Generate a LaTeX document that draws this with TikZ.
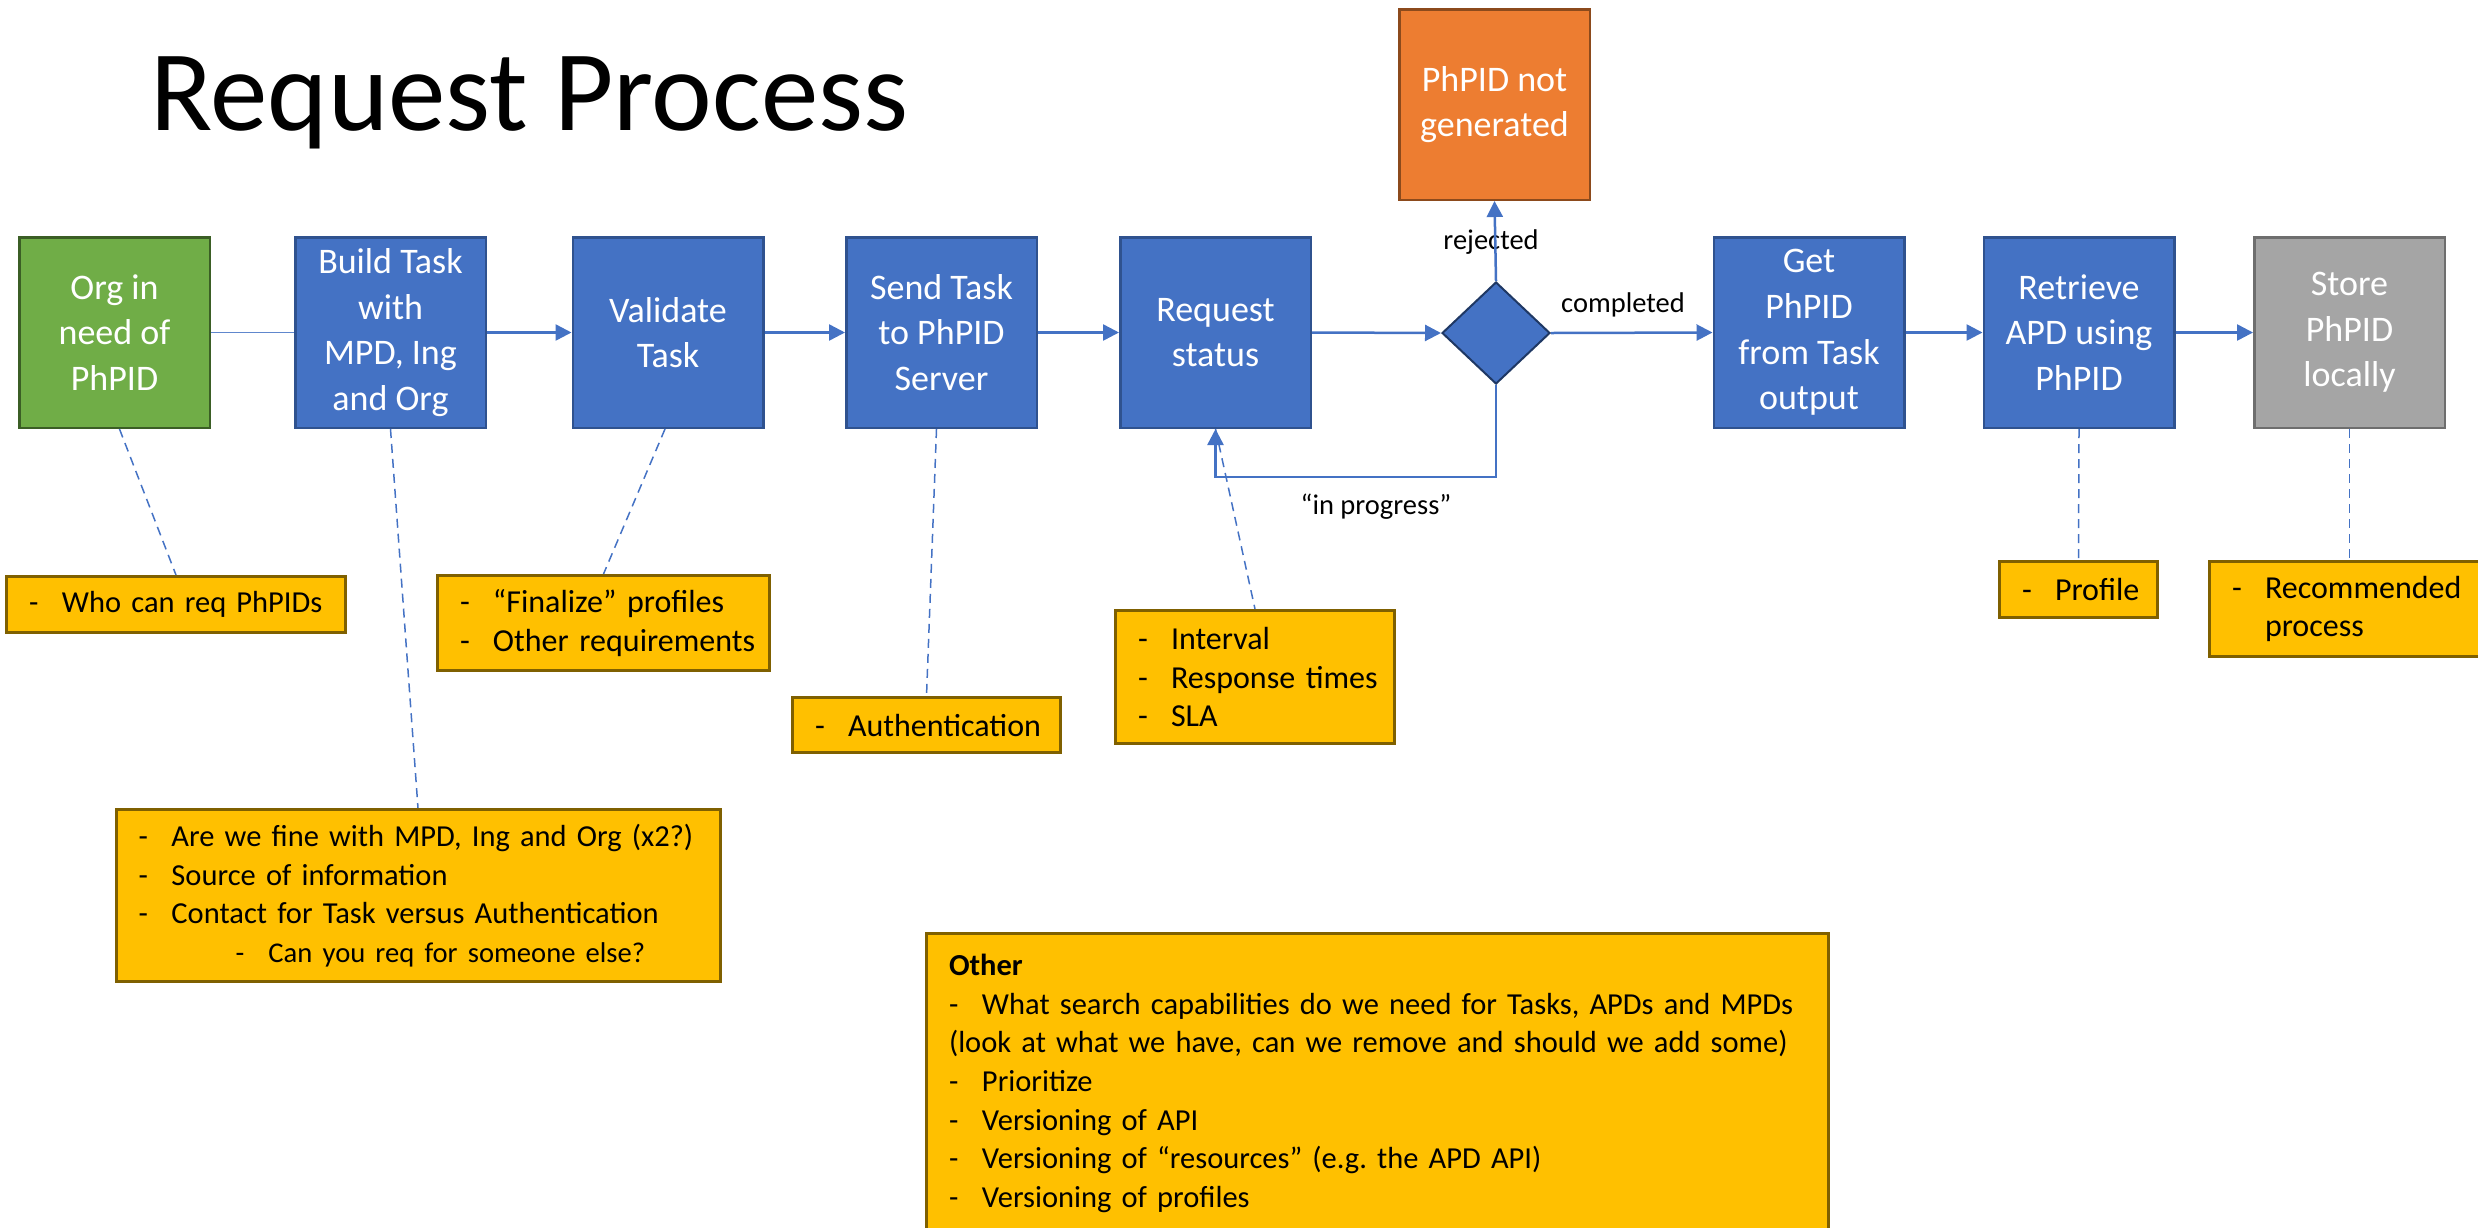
\documentclass[tikz,border=0pt]{standalone}
\usepackage{fontspec}
\setmainfont{Carlito}
\usetikzlibrary{arrows.meta,shapes.geometric}

\definecolor{flowblue}{HTML}{4472C4}
\definecolor{flowedge}{HTML}{2F528F}
\definecolor{diaedge}{HTML}{1F3864}
\definecolor{startgreen}{HTML}{70AD47}
\definecolor{startedge}{HTML}{3B5E25}
\definecolor{failorange}{HTML}{ED7D31}
\definecolor{failedge}{HTML}{8C4A1C}
\definecolor{donegray}{HTML}{A5A5A5}
\definecolor{doneedge}{HTML}{6E6E6E}
\definecolor{notefill}{HTML}{FFC000}
\definecolor{noteedge}{HTML}{7F6000}

% one bullet line of a note: dash, then the text at the hanging indent
\newcommand\itm[1]{\mbox{\makebox[33pt][l]{-}#1}}
% second-level bullet line, set a little smaller
\newcommand\subitm[1]{\hspace*{97pt}\mbox{\fontsize{28.6}{38.7}\selectfont\makebox[33pt][l]{-}#1}}

\tikzset{
  stepbox/.style={rectangle, draw=flowedge, fill=flowblue, line width=2.5pt,
    minimum width=190.5pt, minimum height=190.5pt, inner sep=0pt,
    text=white, align=center, font=\fontsize{36}{45.6}\selectfont},
  startbox/.style={stepbox, draw=startedge, fill=startgreen},
  failbox/.style={stepbox, draw=failedge, fill=failorange},
  donebox/.style={stepbox, draw=doneedge, fill=donegray},
  decision/.style={diamond, draw=diaedge, fill=flowblue, line width=2pt,
    minimum width=108pt, minimum height=102pt, inner sep=0pt},
  notebox/.style={rectangle, draw=noteedge, fill=notefill, line width=3pt,
    inner xsep=0pt, inner ysep=0pt, align=left,
    font=\fontsize{32}{38.6}\selectfont},
  notesmall/.style={notebox, font=\fontsize{30.5}{38.7}\selectfont},
  flow/.style={draw=flowblue, line width=2.5pt,
    -{Triangle[length=16pt,width=16pt]}},
  plainlink/.style={draw=flowblue!85, line width=1.6pt},
  notelink/.style={draw=flowblue, line width=1.5pt, dash pattern=on 9pt off 6pt},
  edgelabel/.style={inner sep=0pt, font=\fontsize{28.5}{34}\selectfont}
}

\begin{document}
\begin{tikzpicture}[x=1pt, y=-1pt]
\useasboundingbox (0,0) rectangle (2478,1227);
\clip (0,0) rectangle (2478,1227);

% title
\node[anchor=base west, inner sep=0pt, font=\fontsize{115}{130}\selectfont]
  (title) at (150,130) {Request Process};

% process steps
\node[startbox] (org)   at (114.5,332.5) {Org in\\need of\\PhPID};
\node[stepbox]  (build) at (390.5,332.5) {Build Task\\with\\MPD, Ing\\and Org};
\node[stepbox]  (valid) at (668,332.5)   {Validate\\Task};
\node[stepbox]  (send)  at (941.5,332.5) {Send Task\\to PhPID\\Server};
\node[stepbox]  (req)   at (1215.5,332.5){Request\\status};
\node[decision] (dec)   at (1496,333)    {};
\node[failbox]  (fail)  at (1494.5,104.5){PhPID not\\generated};
\node[stepbox]  (get)   at (1809,332.5)  {Get\\PhPID\\from Task\\output};
\node[stepbox]  (retr)  at (2079,332.5)  {Retrieve\\APD using\\PhPID};
\node[donebox]  (store) at (2349.5,332.5){Store\\PhPID\\locally};

% notes
\node[notesmall, minimum width=339pt, minimum height=56pt, text width=294pt]
  (who) at (176,604.5) {\itm{Who can req PhPIDs}};
\node[notesmall, minimum width=604pt, minimum height=172pt, text width=559pt]
  (fine) at (418,895.5) {\itm{Are we fine with MPD, Ing and Org (x2?)}\\
    \itm{Source of information}\\
    \itm{Contact for Task versus Authentication}\\
    \subitm{Can you req for someone else?}};
\node[notebox, minimum width=332pt, minimum height=95pt, text width=287pt]
  (final) at (603.5,623) {\itm{“Finalize” profiles}\\\itm{Other requirements}};
\node[notebox, minimum width=268pt, minimum height=55pt, text width=223pt]
  (auth) at (926.5,725) {\itm{Authentication}};
\node[notebox, minimum width=279pt, minimum height=133pt, text width=234pt]
  (intv) at (1255,677) {\itm{Interval}\\\itm{Response times}\\\itm{SLA}};
\node[notebox, minimum width=158pt, minimum height=56pt, text width=113pt]
  (prof) at (2078.5,589.5) {\itm{Profile}};
\node[notebox, minimum width=297pt, minimum height=95pt, text width=252pt]
  (rec) at (2358,609) {\itm{Recommended}\\\hspace*{33pt}process};
\node[notesmall, minimum width=902pt, minimum height=300pt, text width=857pt]
  (other) at (1377.5,1083.5) {\textbf{Other}\\
    \itm{What search capabilities do we need for Tasks, APDs and MPDs}\\
    \mbox{(look at what we have, can we remove and should we add some)}\\
    \itm{Prioritize}\\
    \itm{Versioning of API}\\
    \itm{Versioning of “resources” (e.g.\ the APD API)}\\
    \itm{Versioning of profiles}};

% connector labels
\node[edgelabel] (lrej)  at (1491,242) {rejected};
\node[edgelabel] (lcomp) at (1623,305) {completed};
\node[edgelabel] (lprog) at (1376,507) {“in progress”};

% note links
\draw[notelink] ([xshift=5pt]org.south) -- (who.north);
\draw[notelink] (build.south) -- (fine.north);
\draw[notelink] ([xshift=-3pt]valid.south) -- (final.north);
\draw[notelink] ([xshift=-5pt]send.south) -- (auth.north);
\draw[notelink] (req.south) -- (intv.north);
\draw[notelink] (retr.south) -- (prof.north);
\draw[notelink] (store.south) -- (store.south |- rec.north);

% main flow
\draw[plainlink] (org.east) -- (build.west);
\draw[flow] (build.east) -- (valid.west);
\draw[flow] (valid.east) -- (send.west);
\draw[flow] (send.east) -- (req.west);
\draw[flow] (req.east) -- (dec.west);
\draw[flow] (dec.north) -- (fail.south);
\draw[flow] (dec.east) -- (get.west);
\draw[flow] (get.east) -- (retr.west);
\draw[flow] (retr.east) -- (store.west);
\coordinate (loop) at (1496,477);
\draw[flow] (dec.south) -- (loop) -| (req.south);
\end{tikzpicture}
\end{document}
